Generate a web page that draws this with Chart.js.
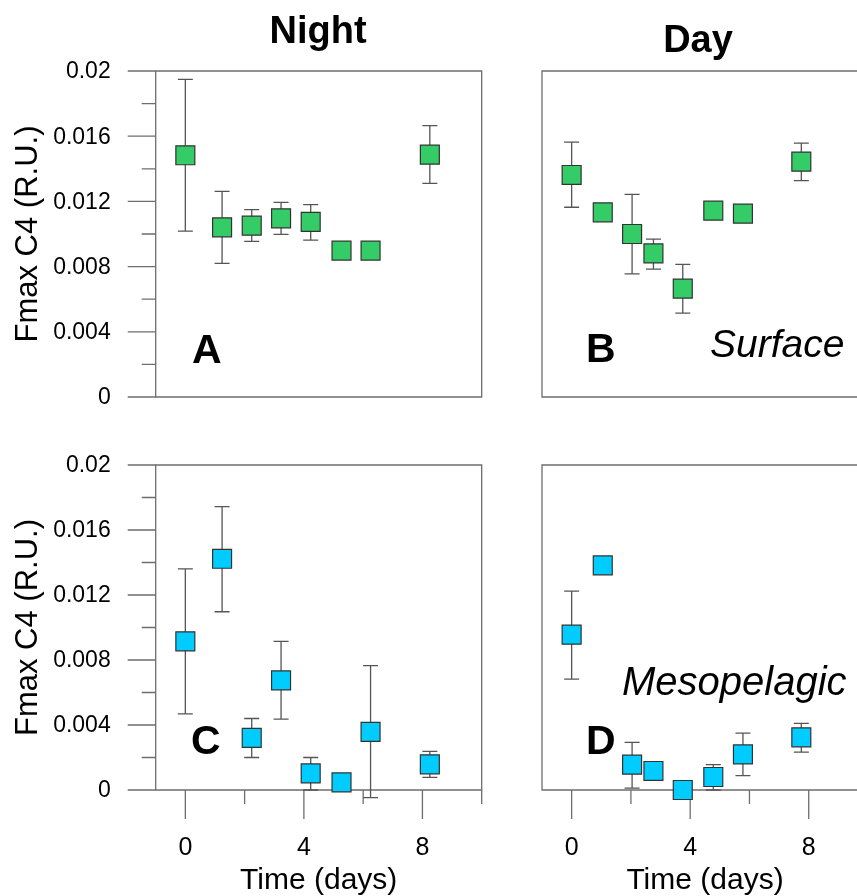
<!DOCTYPE html>
<html>
<head>
<meta charset="utf-8">
<title>Fmax C4</title>
<script src="https://cdn.jsdelivr.net/npm/chart.js@4.4.1/dist/chart.umd.min.js"></script>
<style>
  html, body { margin: 0; padding: 0; background: #fff; overflow: hidden; }
  #wrap { position: relative; width: 857px; height: 896px; overflow: hidden; }
  #wrap canvas { position: absolute; left: 0; top: 0; }
</style>
</head>
<body>
<div id="wrap">
  <canvas id="chart-a"></canvas>
  <canvas id="chart-b"></canvas>
  <canvas id="chart-c"></canvas>
  <canvas id="chart-d"></canvas>
</div>
<script>
'use strict';

// ── Data ──────────────────────────────────────────────────────
const nightTime = [0, 1.24, 2.24, 3.23, 4.23, 5.27, 6.25, 8.25];
const dayTime   = [0, 1.05, 2.04, 2.76, 3.75, 4.78, 5.78, 7.75];

// A: surface, night
const surfNight   = [0.01483, 0.01041, 0.01051, 0.01096, 0.01074, 0.00898, 0.00898, 0.01487];
const surfNightHi = [0.01949, 0.01262, 0.01149, 0.01194, 0.01180, null, null, 0.01665];
const surfNightLo = [0.01018, 0.00820, 0.00955, 0.00998, 0.00963, null, null, 0.01311];

// B: surface, day
const surfDay   = [0.01362, 0.01133, 0.01000, 0.00881, 0.00665, 0.01143, 0.01125, 0.01444];
const surfDayHi = [0.01564, null, 0.01243, 0.00969, 0.00814, null, null, 0.01558];
const surfDayLo = [0.01164, null, 0.00755, 0.00785, 0.00515, null, null, 0.01327];

// C: mesopelagic, night
const mesoNight   = [0.00915, 0.01423, 0.00321, 0.00675, 0.00102, 0.00047, 0.00358, 0.00158];
const mesoNightHi = [0.01361, 0.01744, 0.00440, 0.00915, 0.00200, null, 0.00766, 0.00238];
const mesoNightLo = [0.00469, 0.01097, 0.00200, 0.00436, 0.00000, null, -0.00047, 0.00078];

// D: mesopelagic, day
const mesoDay   = [0.00956, 0.01382, 0.00156, 0.00117, 0.00000, 0.00080, 0.00219, 0.00324];
const mesoDayHi = [0.01224, null, 0.00293, 0.00150, null, 0.00156, 0.00350, 0.00410];
const mesoDayLo = [0.00682, null, 0.00012, 0.00085, null, 0.00000, 0.00088, 0.00233];

const yMajorTicks = [0, 0.004, 0.008, 0.012, 0.016, 0.02];
const yTickLabels = ['0', '0.004', '0.008', '0.012', '0.016', '0.02'];
const yMinorTicks = [0.002, 0.006, 0.01, 0.014, 0.018];
const xMajorTicks = [0, 4, 8];
const xTickLabels = ['0', '4', '8'];
const xMinorTicks = [2, 6, 10];

// ── Style ─────────────────────────────────────────────────────
const FONT   = '"Liberation Sans", Arial, Helvetica, sans-serif';
const GREEN  = '#33cc66';
const BLUE   = '#00ccff';
const LINE   = '#6e6e6e';
const CANVAS_W = 900;
const CANVAS_H = 896;

// ── Panel decoration plugin ───────────────────────────────────
const panelDecor = {
  id: 'panelDecor',
  beforeDatasetsDraw(chart, args, opts) {
    const { ctx, chartArea: a, scales: { x, y } } = chart;
    ctx.save();
    ctx.strokeStyle = LINE;
    ctx.lineWidth = 1.3;

    // frame
    ctx.beginPath();
    ctx.rect(a.left, a.top, a.right - a.left, a.bottom - a.top);
    ctx.stroke();

    // y ticks (left panels only)
    if (opts.yAxis) {
      ctx.beginPath();
      yMajorTicks.forEach(v => {
        const py = y.getPixelForValue(v);
        ctx.moveTo(a.left - 28, py); ctx.lineTo(a.left, py);
      });
      yMinorTicks.forEach(v => {
        const py = y.getPixelForValue(v);
        ctx.moveTo(a.left - 14, py); ctx.lineTo(a.left, py);
      });
      ctx.stroke();

      ctx.fillStyle = '#000';
      ctx.font = `23px ${FONT}`;
      ctx.textAlign = 'right';
      ctx.textBaseline = 'middle';
      yMajorTicks.forEach((v, i) => {
        ctx.fillText(yTickLabels[i], a.left - 45, y.getPixelForValue(v) + 1);
      });

      ctx.save();
      ctx.translate(28, (a.top + a.bottom) / 2);
      ctx.rotate(-Math.PI / 2);
      ctx.font = `31px ${FONT}`;
      ctx.textAlign = 'center';
      ctx.textBaseline = 'middle';
      ctx.fillText('Fmax C4 (R.U.)', 0, 0);
      ctx.restore();
    }

    // x ticks (bottom panels only)
    if (opts.xAxis) {
      ctx.beginPath();
      xMajorTicks.forEach(v => {
        const px = x.getPixelForValue(v);
        ctx.moveTo(px, a.bottom); ctx.lineTo(px, a.bottom + 29);
      });
      xMinorTicks.forEach(v => {
        const px = x.getPixelForValue(v);
        ctx.moveTo(px, a.bottom); ctx.lineTo(px, a.bottom + 14);
      });
      ctx.stroke();

      ctx.fillStyle = '#000';
      ctx.font = `25px ${FONT}`;
      ctx.textAlign = 'center';
      ctx.textBaseline = 'alphabetic';
      xMajorTicks.forEach((v, i) => {
        ctx.fillText(xTickLabels[i], x.getPixelForValue(v), a.bottom + 65);
      });
      ctx.font = `30px ${FONT}`;
      ctx.fillText('Time (days)', x.getPixelForValue(4.5), a.bottom + 99);
    }

    // error bars
    ctx.strokeStyle = '#555';
    ctx.lineWidth = 1.3;
    ctx.beginPath();
    opts.xs.forEach((xv, i) => {
      const hi = opts.hi[i], lo = opts.lo[i];
      if (hi == null || lo == null) return;
      const px = x.getPixelForValue(xv);
      const pHi = y.getPixelForValue(hi);
      const pLo = y.getPixelForValue(lo);
      ctx.moveTo(px, pHi); ctx.lineTo(px, pLo);
      ctx.moveTo(px - 7.5, pHi); ctx.lineTo(px + 7.5, pHi);
      ctx.moveTo(px - 7.5, pLo); ctx.lineTo(px + 7.5, pLo);
    });
    ctx.stroke();
    ctx.restore();
  },
  afterDraw(chart, args, opts) {
    const { ctx } = chart;
    ctx.save();
    ctx.fillStyle = '#000';
    ctx.textBaseline = 'alphabetic';
    (opts.texts || []).forEach(t => {
      ctx.font = `${t.style || ''} ${t.size}px ${FONT}`;
      ctx.textAlign = t.align || 'left';
      ctx.fillText(t.text, t.x, t.y);
    });
    ctx.restore();
  }
};

// ── Build one panel ───────────────────────────────────────────
function makePanel(id, box, xs, ys, hi, lo, color, extra) {
  const canvas = document.getElementById(id);
  canvas.width = CANVAS_W;
  canvas.height = CANVAS_H;
  canvas.style.width = CANVAS_W + 'px';
  canvas.style.height = CANVAS_H + 'px';
  return new Chart(canvas, {
    type: 'scatter',
    data: {
      datasets: [{
        data: xs.map((xv, i) => ({ x: xv, y: ys[i] })),
        pointStyle: 'rect',
        pointRadius: 13.4,
        pointHoverRadius: 13.4,
        backgroundColor: color,
        borderColor: '#333',
        borderWidth: 1.2,
        clip: false
      }]
    },
    options: {
      responsive: false,
      animation: false,
      events: [],
      layout: {
        padding: {
          left: box.left,
          top: box.top,
          right: CANVAS_W - box.right,
          bottom: CANVAS_H - box.bottom
        }
      },
      scales: {
        x: { type: 'linear', min: -1, max: 10, display: false },
        y: { type: 'linear', min: 0, max: 0.02, display: false }
      },
      plugins: {
        legend: { display: false },
        tooltip: { enabled: false },
        panelDecor: { xs, hi, lo, ...extra }
      }
    },
    plugins: [panelDecor]
  });
}

const topBox = { top: 71, bottom: 397 };
const botBox = { top: 465, bottom: 790 };
const leftX  = { left: 155.7, right: 481.7 };
const rightX = { left: 542, right: 868 };

makePanel('chart-a', { ...leftX, ...topBox }, nightTime, surfNight, surfNightHi, surfNightLo, GREEN, {
  yAxis: true,
  texts: [
    { text: 'Night', x: 318, y: 43, size: 38, style: 'bold', align: 'center' },
    { text: 'A', x: 192, y: 363, size: 41, style: 'bold' }
  ]
});

makePanel('chart-b', { ...rightX, ...topBox }, dayTime, surfDay, surfDayHi, surfDayLo, GREEN, {
  texts: [
    { text: 'Day', x: 698, y: 52, size: 38, style: 'bold', align: 'center' },
    { text: 'B', x: 586, y: 362, size: 41, style: 'bold' },
    { text: 'Surface', x: 710, y: 357, size: 39, style: 'italic' }
  ]
});

makePanel('chart-c', { ...leftX, ...botBox }, nightTime, mesoNight, mesoNightHi, mesoNightLo, BLUE, {
  yAxis: true,
  xAxis: true,
  texts: [
    { text: 'C', x: 191, y: 754, size: 41, style: 'bold' }
  ]
});

makePanel('chart-d', { ...rightX, ...botBox }, dayTime, mesoDay, mesoDayHi, mesoDayLo, BLUE, {
  xAxis: true,
  texts: [
    { text: 'D', x: 586, y: 754, size: 41, style: 'bold' },
    { text: 'Mesopelagic', x: 622, y: 695, size: 40, style: 'italic' }
  ]
});
</script>
</body>
</html>
